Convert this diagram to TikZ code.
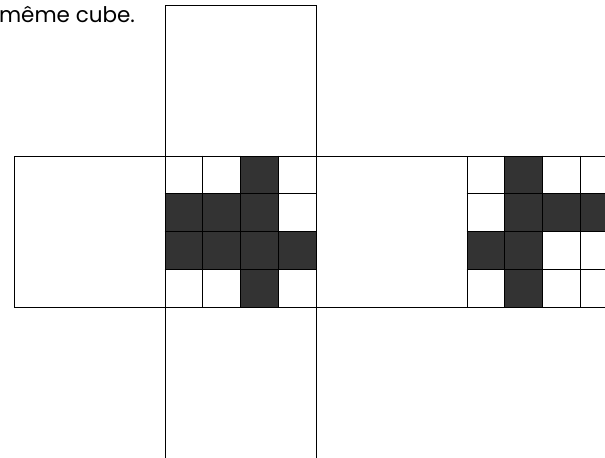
\documentclass[tikz,border=0pt]{standalone}
\usepackage{fontspec}
\setmainfont{Poppins}
\begin{document}
\begin{tikzpicture}
% cube net with two patterned faces
\def\cellsz{37.75pt}
\providecommand{\netLineColor}{black}
\providecommand{\netLineWidth}{0.9pt}
\providecommand{\netCellColor}{black!80}
\begin{scope}[x=\cellsz, y=\cellsz, line cap=rect, line join=miter]
  % Page frame
  \useasboundingbox (-4.371,-4) rectangle (11.656,8.132);
  \clip (-4.371,-4) rectangle (11.656,8.132);
  % Caption
  \node[anchor=base east, inner sep=0pt, font=\fontsize{21.5}{24}\selectfont] (caption) at (-0.79,7.53) {même cube.};
  % Filled cells, face 2
  \begin{scope}[fill=\netCellColor]
    \fill (2,3) rectangle ++(1,1);
    \fill (0,2) rectangle ++(1,1);
    \fill (1,2) rectangle ++(1,1);
    \fill (2,2) rectangle ++(1,1);
    \fill (0,1) rectangle ++(1,1);
    \fill (1,1) rectangle ++(1,1);
    \fill (2,1) rectangle ++(1,1);
    \fill (3,1) rectangle ++(1,1);
    \fill (2,0) rectangle ++(1,1);
  \end{scope}
  % Filled cells, face 4
  \begin{scope}[fill=\netCellColor]
    \fill (9,3) rectangle ++(1,1);
    \fill (9,2) rectangle ++(1,1);
    \fill (10,2) rectangle ++(1,1);
    \fill (11,2) rectangle ++(1,1);
    \fill (8,1) rectangle ++(1,1);
    \fill (9,1) rectangle ++(1,1);
    \fill (9,0) rectangle ++(1,1);
  \end{scope}
  % Grid lines
  \begin{scope}[draw=\netLineColor, line width=\netLineWidth]
    \draw (1,0) -- (1,4);
    \draw (2,0) -- (2,4);
    \draw (3,0) -- (3,4);
    \draw (0,1) -- (4,1);
    \draw (0,2) -- (4,2);
    \draw (0,3) -- (4,3);
    \draw (9,0) -- (9,4);
    \draw (10,0) -- (10,4);
    \draw (11,0) -- (11,4);
    \draw (8,1) -- (12,1);
    \draw (8,2) -- (12,2);
    \draw (8,3) -- (12,3);
  \end{scope}
  % Faces
  \begin{scope}[draw=\netLineColor, line width=\netLineWidth]
    \draw (0,4) rectangle (4,8);
    \draw (-4,0) rectangle (0,4);
    \draw (0,0) rectangle (4,4);
    \draw (4,0) rectangle (8,4);
    \draw (8,0) rectangle (12,4);
    \draw (0,-4.3) rectangle (4,0);
  \end{scope}
\end{scope}
\end{tikzpicture}
\end{document}
